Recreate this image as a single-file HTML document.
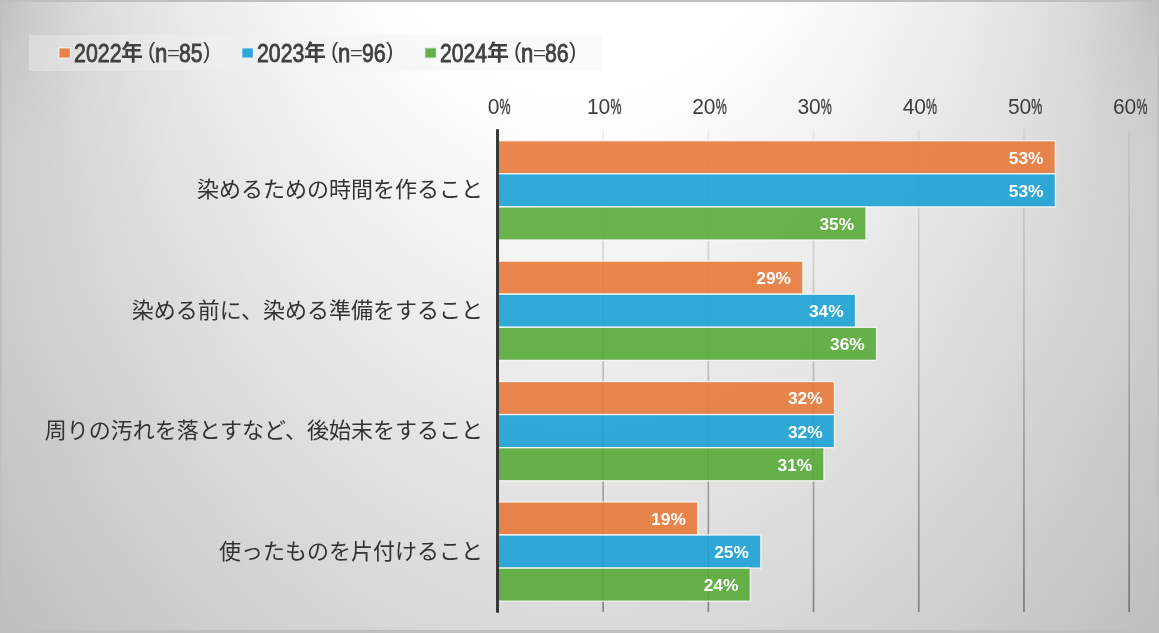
<!DOCTYPE html>
<html lang="ja"><head><meta charset="utf-8"><title>染めるときの負担 2022年・2023年・2024年</title>
<style>
html,body{margin:0;padding:0;}
body{width:1159px;height:633px;overflow:hidden;background:#d4d4d4;font-family:"Liberation Sans",sans-serif;}
#chart{position:relative;width:1159px;height:633px;overflow:hidden;
 background:radial-gradient(ellipse 329px 566px at 0 0, rgba(0,0,0,0.1127) 0%, rgba(0,0,0,0.0684) 10%, rgba(0,0,0,0.0415) 20%, rgba(0,0,0,0.0251) 30%, rgba(0,0,0,0.0153) 40%, rgba(0,0,0,0.0056) 60%, rgba(0,0,0,0.0021) 80%, rgba(0,0,0,0.0000) 100%),radial-gradient(ellipse 329px 566px at 100% 0, rgba(0,0,0,0.1127) 0%, rgba(0,0,0,0.0684) 10%, rgba(0,0,0,0.0415) 20%, rgba(0,0,0,0.0251) 30%, rgba(0,0,0,0.0153) 40%, rgba(0,0,0,0.0056) 60%, rgba(0,0,0,0.0021) 80%, rgba(0,0,0,0.0000) 100%),radial-gradient(ellipse 925px 1586px at 579.5px -412px, #ffffff 0, #ffffff 32%, #b4b4b4 100%);}
#frame{position:absolute;left:0;top:0;width:1159px;height:633px;box-sizing:border-box;border:2px solid #bfbfbf;border-bottom-width:3px;}
#legend{position:absolute;left:29px;top:35px;width:573px;height:36px;background:rgba(242,242,242,0.39);}
#fg{position:absolute;left:0;top:0;width:1159px;height:633px;will-change:transform;}
svg{position:absolute;left:0;top:0;}
.lg{position:absolute;color:#404040;white-space:nowrap;transform-origin:0 50%;-webkit-text-stroke:0.8px #404040;}
.pr{position:absolute;color:#404040;white-space:nowrap;transform-origin:0 50%;}
.dl{position:absolute;height:22px;line-height:22px;font-size:17.33px;font-weight:bold;color:#fff;text-align:right;width:60px;white-space:nowrap;}
.jp{position:absolute;height:26px;line-height:26px;font-size:22px;color:#333333;font-family:"Liberation Sans","Noto Sans CJK JP",sans-serif;white-space:nowrap;text-align:right;width:460px;left:23px;overflow:hidden;}
.yr{position:absolute;top:40px;font-size:22px;line-height:26px;color:#404040;font-weight:bold;font-family:"Liberation Sans","Noto Sans CJK JP",sans-serif;width:23px;height:26px;overflow:hidden;}
text.ax{font-family:"Liberation Sans",sans-serif;font-size:21.8px;fill:#3e3e3e;}
</style></head><body>
<div id="chart">
<div id="frame"></div>
<div id="legend"></div>
<div id="fg">
<svg width="1159" height="633" viewBox="0 0 1159 633">
<defs><linearGradient id="gl" x1="0" y1="0" x2="0" y2="1"><stop offset="0" stop-color="#000" stop-opacity=".05"/><stop offset=".5" stop-color="#000" stop-opacity=".185"/><stop offset="1" stop-color="#000" stop-opacity=".385"/></linearGradient></defs>
<g fill="url(#gl)">
<rect x="602.29" y="129.6" width="1.7" height="482.4"/>
<rect x="707.49" y="129.6" width="1.7" height="482.4"/>
<rect x="812.69" y="129.6" width="1.7" height="482.4"/>
<rect x="917.89" y="129.6" width="1.7" height="482.4"/>
<rect x="1023.09" y="129.6" width="1.7" height="482.4"/>
<rect x="1128.29" y="129.6" width="1.7" height="482.4"/>
</g>
<g stroke="#f6f6f6" stroke-opacity=".92" stroke-width="1.33">
<rect x="497.6" y="140.70" width="557.80" height="33.10" fill="rgba(230,118,55,0.88)"/>
<rect x="497.6" y="173.80" width="557.80" height="33.10" fill="rgba(22,159,212,0.88)"/>
<rect x="497.6" y="206.90" width="368.44" height="33.10" fill="rgba(83,168,51,0.88)"/>
<rect x="497.6" y="261.10" width="305.32" height="33.10" fill="rgba(230,118,55,0.88)"/>
<rect x="497.6" y="294.20" width="357.92" height="33.10" fill="rgba(22,159,212,0.88)"/>
<rect x="497.6" y="327.30" width="378.96" height="33.10" fill="rgba(83,168,51,0.88)"/>
<rect x="497.6" y="381.50" width="336.88" height="33.10" fill="rgba(230,118,55,0.88)"/>
<rect x="497.6" y="414.60" width="336.88" height="33.10" fill="rgba(22,159,212,0.88)"/>
<rect x="497.6" y="447.70" width="326.36" height="33.10" fill="rgba(83,168,51,0.88)"/>
<rect x="497.6" y="501.90" width="200.12" height="33.10" fill="rgba(230,118,55,0.88)"/>
<rect x="497.6" y="535.00" width="263.24" height="33.10" fill="rgba(22,159,212,0.88)"/>
<rect x="497.6" y="568.10" width="252.72" height="33.10" fill="rgba(83,168,51,0.88)"/>
</g>
<rect x="496" y="129.2" width="3" height="483.5" fill="#383838"/>
<rect x="58.75" y="47.75" width="11.7" height="10.4" fill="#E8804A" stroke="#f4f4f4" stroke-opacity=".9" stroke-width="1.3"/>
<rect x="241.75" y="47.75" width="11.7" height="10.4" fill="#2FA8D9" stroke="#f4f4f4" stroke-opacity=".9" stroke-width="1.3"/>
<rect x="424.75" y="47.75" width="11.7" height="10.4" fill="#62B047" stroke="#f4f4f4" stroke-opacity=".9" stroke-width="1.3"/>
<text class="ax" y="113.90"><tspan x="487.64" textLength="11.70" lengthAdjust="spacingAndGlyphs">0</tspan><tspan stroke="#3e3e3e" stroke-width=".45" x="499.49" textLength="11.00" lengthAdjust="spacingAndGlyphs">%</tspan></text>
<text class="ax" y="113.90"><tspan x="587.09" textLength="11.70" lengthAdjust="spacingAndGlyphs">1</tspan><tspan x="598.59" textLength="11.70" lengthAdjust="spacingAndGlyphs">0</tspan><tspan stroke="#3e3e3e" stroke-width=".45" x="610.44" textLength="11.00" lengthAdjust="spacingAndGlyphs">%</tspan></text>
<text class="ax" y="113.90"><tspan x="692.29" textLength="11.70" lengthAdjust="spacingAndGlyphs">2</tspan><tspan x="703.79" textLength="11.70" lengthAdjust="spacingAndGlyphs">0</tspan><tspan stroke="#3e3e3e" stroke-width=".45" x="715.64" textLength="11.00" lengthAdjust="spacingAndGlyphs">%</tspan></text>
<text class="ax" y="113.90"><tspan x="797.49" textLength="11.70" lengthAdjust="spacingAndGlyphs">3</tspan><tspan x="808.99" textLength="11.70" lengthAdjust="spacingAndGlyphs">0</tspan><tspan stroke="#3e3e3e" stroke-width=".45" x="820.84" textLength="11.00" lengthAdjust="spacingAndGlyphs">%</tspan></text>
<text class="ax" y="113.90"><tspan x="902.69" textLength="11.70" lengthAdjust="spacingAndGlyphs">4</tspan><tspan x="914.19" textLength="11.70" lengthAdjust="spacingAndGlyphs">0</tspan><tspan stroke="#3e3e3e" stroke-width=".45" x="926.04" textLength="11.00" lengthAdjust="spacingAndGlyphs">%</tspan></text>
<text class="ax" y="113.90"><tspan x="1007.89" textLength="11.70" lengthAdjust="spacingAndGlyphs">5</tspan><tspan x="1019.39" textLength="11.70" lengthAdjust="spacingAndGlyphs">0</tspan><tspan stroke="#3e3e3e" stroke-width=".45" x="1031.24" textLength="11.00" lengthAdjust="spacingAndGlyphs">%</tspan></text>
<text class="ax" y="113.90"><tspan x="1113.09" textLength="11.70" lengthAdjust="spacingAndGlyphs">6</tspan><tspan x="1124.59" textLength="11.70" lengthAdjust="spacingAndGlyphs">0</tspan><tspan stroke="#3e3e3e" stroke-width=".45" x="1136.44" textLength="11.00" lengthAdjust="spacingAndGlyphs">%</tspan></text>
</svg>
<div class="lg" style="left:74.13px;top:37.60px;height:30px;line-height:30px;font-size:25.1px;transform:scaleX(0.8516)">2022</div>
<div class="yr" style="left:121.0px">年</div>
<div class="pr" style="left:148.02px;top:38.31px;height:26px;line-height:26px;font-size:21.9px;transform:scaleX(1.0161)">(</div>
<div class="lg" style="left:155.03px;top:37.60px;height:30px;line-height:30px;font-size:25.1px;transform:scaleX(0.8816)">n</div>
<div class="pr" style="left:166.92px;top:41.11px;height:23px;line-height:23px;font-size:19.0px;transform:scaleX(1.1591)">=</div>
<div class="lg" style="left:178.78px;top:37.60px;height:30px;line-height:30px;font-size:25.1px;transform:scaleX(0.8458)">85</div>
<div class="pr" style="left:203.17px;top:38.31px;height:26px;line-height:26px;font-size:21.9px;transform:scaleX(1.0161)">)</div>
<div class="lg" style="left:257.13px;top:37.60px;height:30px;line-height:30px;font-size:25.1px;transform:scaleX(0.8490)">2023</div>
<div class="yr" style="left:304.0px">年</div>
<div class="pr" style="left:331.02px;top:38.31px;height:26px;line-height:26px;font-size:21.9px;transform:scaleX(1.0161)">(</div>
<div class="lg" style="left:338.03px;top:37.60px;height:30px;line-height:30px;font-size:25.1px;transform:scaleX(0.8816)">n</div>
<div class="pr" style="left:349.92px;top:41.11px;height:23px;line-height:23px;font-size:19.0px;transform:scaleX(1.1591)">=</div>
<div class="lg" style="left:361.70px;top:37.60px;height:30px;line-height:30px;font-size:25.1px;transform:scaleX(0.8503)">96</div>
<div class="pr" style="left:386.17px;top:38.31px;height:26px;line-height:26px;font-size:21.9px;transform:scaleX(1.0161)">)</div>
<div class="lg" style="left:440.14px;top:37.60px;height:30px;line-height:30px;font-size:25.1px;transform:scaleX(0.8432)">2024</div>
<div class="yr" style="left:487.0px">年</div>
<div class="pr" style="left:514.02px;top:38.31px;height:26px;line-height:26px;font-size:21.9px;transform:scaleX(1.0161)">(</div>
<div class="lg" style="left:521.03px;top:37.60px;height:30px;line-height:30px;font-size:25.1px;transform:scaleX(0.8816)">n</div>
<div class="pr" style="left:532.92px;top:41.11px;height:23px;line-height:23px;font-size:19.0px;transform:scaleX(1.1591)">=</div>
<div class="lg" style="left:544.78px;top:37.60px;height:30px;line-height:30px;font-size:25.1px;transform:scaleX(0.8474)">86</div>
<div class="pr" style="left:569.17px;top:38.31px;height:26px;line-height:26px;font-size:21.9px;transform:scaleX(1.0161)">)</div>
<div class="dl" style="left:983.5px;top:146.7px">53%</div>
<div class="dl" style="left:983.5px;top:179.8px">53%</div>
<div class="dl" style="left:794.1px;top:212.8px">35%</div>
<div class="dl" style="left:731.0px;top:267.1px">29%</div>
<div class="dl" style="left:783.6px;top:300.2px">34%</div>
<div class="dl" style="left:804.7px;top:333.2px">36%</div>
<div class="dl" style="left:762.6px;top:387.4px">32%</div>
<div class="dl" style="left:762.6px;top:420.6px">32%</div>
<div class="dl" style="left:752.1px;top:453.6px">31%</div>
<div class="dl" style="left:625.8px;top:507.8px">19%</div>
<div class="dl" style="left:688.9px;top:540.9px">25%</div>
<div class="dl" style="left:678.4px;top:574.0px">24%</div>
<div class="jp" style="top:177.3px">染めるための時間を作ること</div>
<div class="jp" style="top:297.8px">染める前に、染める準備をすること</div>
<div class="jp" style="top:418.1px">周りの汚れを落とすなど、後始末をすること</div>
<div class="jp" style="top:538.5px">使ったものを片付けること</div>
</div>
</div></body></html>
